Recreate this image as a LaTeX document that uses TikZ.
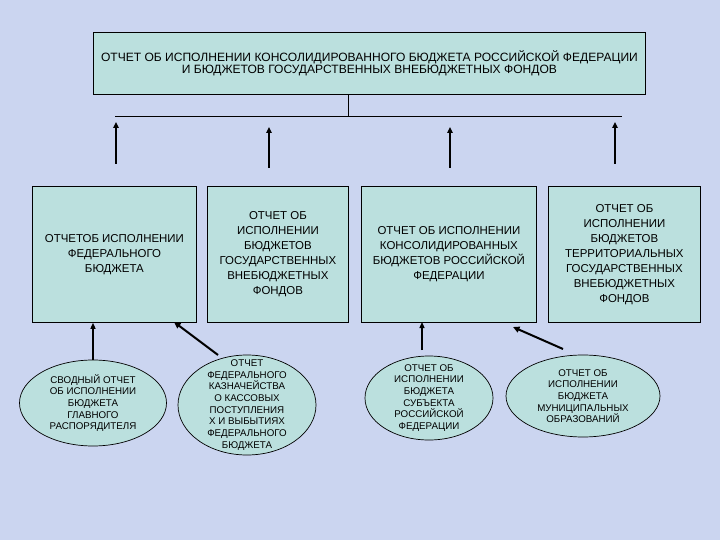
\documentclass[tikz,border=0pt]{standalone}
\usepackage{fontspec}
\setmainfont{Liberation Sans}
\usetikzlibrary{shapes.geometric,arrows.meta}
\definecolor{bgcol}{RGB}{203,213,240}
\definecolor{boxfill}{RGB}{187,224,222}
\begin{document}
\begin{tikzpicture}[x=1bp,y=-1bp,
  rbox/.style={draw=black, line width=0.8bp, fill=boxfill, anchor=north west, inner sep=0pt, align=center},
  ebox/.style={draw=black, line width=0.7bp, fill=boxfill, ellipse, inner sep=0pt},
  toptext/.style={font=\fontsize{12.1}{12.5}\selectfont},
  btext/.style={font=\fontsize{11.5}{15}\selectfont},
  etext/.style={align=center, inner sep=0pt, font=\fontsize{9.8}{11.7}\selectfont},
  uparrow/.style={line width=2bp, -{Triangle[length=6bp,width=5.5bp]}},
  thinarrow/.style={line width=1.3bp, -{Triangle[length=6bp,width=5bp]}},
  diagarrow/.style={line width=2bp, -{Triangle[length=6.5bp,width=6bp]}},
  link/.style={line width=0.9bp}
]
\useasboundingbox (0,0) rectangle (720,540);
\fill[bgcol] (0,0) rectangle (720,540);

% top box
\node[rbox, toptext, minimum width=552bp, minimum height=62bp] (top) at (93,32)
  {ОТЧЕТ ОБ ИСПОЛНЕНИИ КОНСОЛИДИРОВАННОГО БЮДЖЕТА РОССИЙСКОЙ ФЕДЕРАЦИИ\\И БЮДЖЕТОВ ГОСУДАРСТВЕННЫХ ВНЕБЮДЖЕТНЫХ ФОНДОВ};

% second level boxes
\node[rbox, btext, minimum width=164bp, minimum height=136bp] (b1) at (32,186)
  {ОТЧЕТОБ ИСПОЛНЕНИИ\\ФЕДЕРАЛЬНОГО\\БЮДЖЕТА};
\node[rbox, btext, minimum width=141bp, minimum height=136bp] (b2) at (207,186)
  {ОТЧЕТ ОБ\\ИСПОЛНЕНИИ\\БЮДЖЕТОВ\\ГОСУДАРСТВЕННЫХ\\ВНЕБЮДЖЕТНЫХ\\ФОНДОВ};
\node[rbox, btext, minimum width=175bp, minimum height=136bp] (b3) at (361,186)
  {ОТЧЕТ ОБ ИСПОЛНЕНИИ\\КОНСОЛИДИРОВАННЫХ\\БЮДЖЕТОВ РОССИЙСКОЙ\\ФЕДЕРАЦИИ};
\node[rbox, btext, minimum width=152bp, minimum height=136bp] (b4) at (548,186)
  {ОТЧЕТ ОБ\\ИСПОЛНЕНИИ\\БЮДЖЕТОВ\\ТЕРРИТОРИАЛЬНЫХ\\ГОСУДАРСТВЕННЫХ\\ВНЕБЮДЖЕТНЫХ\\ФОНДОВ};

% ellipses
\node[ebox, minimum width=147bp, minimum height=86bp] (e1) at (93,403) {};
\node[etext] (t1) at (e1.center) {СВОДНЫЙ ОТЧЕТ\\ОБ ИСПОЛНЕНИИ\\БЮДЖЕТА\\ГЛАВНОГО\\РАСПОРЯДИТЕЛЯ};
\node[ebox, minimum width=138bp, minimum height=100bp] (e2) at (247,405) {};
\node[etext] (t2) at (e2.center) {ОТЧЕТ\\ФЕДЕРАЛЬНОГО\\КАЗНАЧЕЙСТВА\\О КАССОВЫХ\\ПОСТУПЛЕНИЯ\\Х И ВЫБЫТИЯХ\\ФЕДЕРАЛЬНОГО\\БЮДЖЕТА};
\node[ebox, minimum width=128bp, minimum height=84bp] (e3) at (429,398) {};
\node[etext] (t3) at (e3.center) {ОТЧЕТ ОБ\\ИСПОЛНЕНИИ\\БЮДЖЕТА\\СУБЪЕКТА\\РОССИЙСКОЙ\\ФЕДЕРАЦИИ};
\node[ebox, minimum width=154bp, minimum height=82bp] (e4) at (583,396) {};
\node[etext] (t4) at (e4.center) {ОТЧЕТ ОБ\\ИСПОЛНЕНИИ\\БЮДЖЕТА\\МУНИЦИПАЛЬНЫХ\\ОБРАЗОВАНИЙ};

% connector from top box to horizontal bar
\coordinate (hb) at (348,116);
\coordinate (hl) at (115,116);
\coordinate (hr) at (622,116);
\draw[link] (top.south -| hb) -- (hb);
\draw[link] (hl) -- (hr);

% up arrows (free)
\coordinate (a1s) at (116,164); \coordinate (a1e) at (116,122);
\coordinate (a2s) at (269,168); \coordinate (a2e) at (269,127);
\coordinate (a3s) at (450,168); \coordinate (a3e) at (450,127);
\coordinate (a4s) at (615,164); \coordinate (a4e) at (615,122);
\draw[uparrow] (a1s) -- (a1e);
\draw[uparrow] (a2s) -- (a2e);
\draw[uparrow] (a3s) -- (a3e);
\draw[uparrow] (a4s) -- (a4e);

% ellipse arrows
\coordinate (b1in) at (174,322);
\coordinate (b3in) at (513,327);
\draw[thinarrow] (e1.north) -- (e1.north |- b1.south);
\draw[diagarrow] (218,355) -- (b1in);
\draw[thinarrow] (422,350) -- (422,322);
\draw[diagarrow] (563,349) -- (b3in);
\end{tikzpicture}
\end{document}
